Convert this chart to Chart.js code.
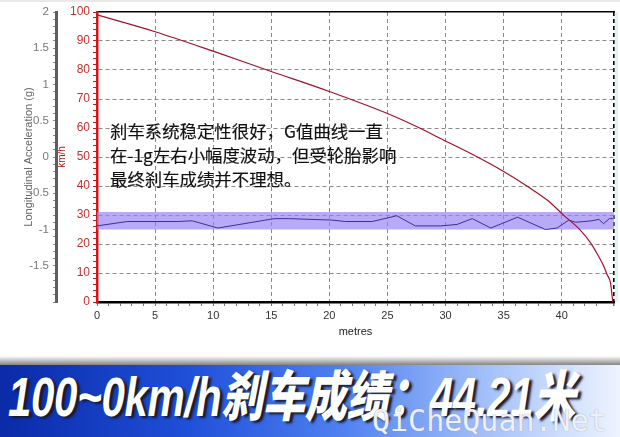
<!DOCTYPE html>
<html>
<head>
<meta charset="utf-8">
<script src="https://cdn.jsdelivr.net/npm/chart.js@4/dist/chart.umd.min.js"></script>
<style>
  html,body{margin:0;padding:0;background:#fff;}
  #wrap{position:relative;width:620px;height:437px;overflow:hidden;background:#fff;}
  #c{position:absolute;left:0;top:0;}
  #topstrip{position:absolute;left:0;top:0;width:620px;height:2px;background:#e9e9e9;}
  #rightstrip{position:absolute;left:615px;top:12px;width:3px;height:290px;background:#dff5f5;}
  #note{position:absolute;left:110px;top:119px;font-family:"Noto Sans CJK SC","Noto Sans",sans-serif;font-size:17.4px;line-height:24px;color:#111;white-space:nowrap;-webkit-text-stroke:0.15px #111;}
  #shadow{position:absolute;left:0;top:356px;width:620px;height:9px;background:linear-gradient(to bottom,rgba(255,255,255,0),rgba(110,110,110,0.85));}
  #banner{position:absolute;left:0;top:365px;width:620px;height:72px;background:linear-gradient(to right,#0a2aa8 0%,#1f4fd8 30%,#4f80f0 55%,#a9c4fa 80%,#eef4ff 100%);}
  #btext{position:absolute;left:8px;top:369px;font-family:"Liberation Sans","Noto Sans CJK SC",sans-serif;font-weight:900;font-style:italic;font-size:42px;line-height:44px;color:#fff;text-shadow:3px 2px 2px #1a1a2a;white-space:nowrap;letter-spacing:-0.3px;transform:scale(1,1.3);transform-origin:left top;}
  #wm{position:absolute;left:372px;top:404px;font-family:"DejaVu Sans Mono","Liberation Mono",monospace;font-size:30px;line-height:34px;color:rgba(248,250,255,0.92);text-shadow:0 0 1px #8890a8;white-space:nowrap;}
</style>
</head>
<body>
<div id="wrap">
  <canvas id="c" width="620" height="350"></canvas>
  <div id="topstrip"></div>
  <div id="rightstrip"></div>
  <div id="note">刹车系统稳定性很好，G值曲线一直<br>在-1g左右小幅度波动，但受轮胎影响<br>最终刹车成绩并不理想。</div>
  <div id="shadow"></div>
  <div id="banner"></div>
  <div id="btext">100~0km/h刹车成绩：44.21米</div>
  <div id="wm">QiCheQuan.Net</div>
</div>
<script>
// ---- data ----
const speedDist = [0, 5, 10, 15, 20, 25, 27.5, 30, 32.5, 35, 37, 38.8, 40.2, 41.6, 42.5, 43, 43.6, 43.9, 44.2, 44.4];
const speedKmh  = [99, 93.2, 86.5, 79.5, 72.6, 65, 60.5, 55.5, 50.5, 45, 40, 35, 29.8, 24.8, 20.3, 17, 12.5, 9.5, 6.5, 0];

const gDist = [0, 2.6, 6.9, 8.2, 10.4, 14.9, 15.3, 16.5, 20.2, 21.4, 23.7, 25.8, 27.4, 29.6, 31, 32.3, 33.9, 36.2, 38.6, 39.6, 40.6, 41.2, 41.9, 42.6, 43.2, 43.6, 44.1, 44.4];
const gVals = [-0.95, -0.89, -0.89, -0.88, -0.98, -0.86, -0.85, -0.85, -0.87, -0.89, -0.89, -0.81, -0.95, -0.95, -0.93, -0.85, -0.98, -0.83, -1.0, -0.98, -0.87, -0.9, -0.89, -0.88, -0.86, -0.92, -0.85, -0.85];

const bandDist = [0, 44.5];
const bandTop = [-0.76, -0.76];
const bandBottom = [-1.0, -1.0];

const xTickLabels = [0, 5, 10, 15, 20, 25, 30, 35, 40];
const kmhTickLabels = [0, 10, 20, 30, 40, 50, 60, 70, 80, 90, 100];
const gTickLabels = [-1.5, -1, -0.5, 0, 0.5, 1, 1.5, 2];
const X_MAX = 44.5;

const pts = (xs, ys) => xs.map((x, i) => ({x: x, y: ys[i]}));
const near = (v, list) => list.some(t => Math.abs(t - v) < 1e-6);
const FONT = "'Liberation Sans', Arial, sans-serif";

new Chart(document.getElementById('c'), {
  type: 'line',
  data: {
    datasets: [
      {label: 'bandTop', data: pts(bandDist, bandTop), yAxisID: 'g', xAxisID: 'x',
       borderWidth: 0, pointRadius: 0, fill: '+1', backgroundColor: 'rgba(150,130,245,0.68)', order: 5},
      {label: 'bandBottom', data: pts(bandDist, bandBottom), yAxisID: 'g', xAxisID: 'x',
       borderWidth: 0, pointRadius: 0, fill: false, order: 5},
      {label: 'g', data: pts(gDist, gVals), yAxisID: 'g', xAxisID: 'x',
       borderColor: '#3e2f92', borderWidth: 1, pointRadius: 0, fill: false, tension: 0, order: 2},
      {label: 'speed', data: pts(speedDist, speedKmh), yAxisID: 'v', xAxisID: 'x',
       borderColor: '#a3102c', borderWidth: 1.2, pointRadius: 0, fill: false, cubicInterpolationMode: 'monotone', order: 1}
    ]
  },
  options: {
    responsive: false,
    animation: false,
    layout: {padding: {top: 12, left: 0, right: 0, bottom: 0}},
    plugins: {legend: {display: false}, tooltip: {enabled: false}},
    scales: {
      x: {
        type: 'linear', position: 'bottom', min: 0, max: X_MAX,
        afterFit: s => { s.height = 48; },
        ticks: {stepSize: 1, autoSkip: false, maxRotation: 0, padding: 3, color: '#333',
                font: {family: FONT, size: 11},
                callback: v => near(v, xTickLabels) ? String(v) : ''},
        grid: {drawOnChartArea: true, tickLength: 4, tickBorderDash: [],
               color: c => {
                 if (!c.tick) return 'rgba(0,0,0,0)';
                 if (Math.abs(c.tick.value - X_MAX) < 1e-6) return '#000';
                 return (near(c.tick.value, xTickLabels) && c.tick.value !== 0) ? '#8a8a8a' : 'rgba(0,0,0,0)';
               },
               lineWidth: c => (c.tick && Math.abs(c.tick.value - X_MAX) < 1e-6) ? 1.6 : 1,
               tickColor: '#777'},
        border: {display: true, color: '#000', width: 2.5, dash: [4, 3]},
        title: {display: true, text: 'metres', color: '#222', font: {family: FONT, size: 11}, padding: {top: 0, bottom: 11}}
      },
      xt: {
        type: 'linear', position: 'top', min: 0, max: X_MAX,
        afterFit: s => { s.height = 0; },
        ticks: {display: false}, grid: {display: false, drawTicks: false},
        border: {display: true, color: '#000', width: 1.5}
      },
      v: {
        type: 'linear', position: 'left', min: 0, max: 100, weight: 0,
        afterFit: s => { s.width = 41; },
        ticks: {stepSize: 2, autoSkip: false, padding: 3, color: '#c8302f',
                font: {family: FONT, size: 12},
                callback: v => near(v, kmhTickLabels) ? String(v) : ''},
        grid: {drawOnChartArea: true, tickLength: 4, tickBorderDash: [],
               color: c => (c.tick && near(c.tick.value, kmhTickLabels) && c.tick.value !== 0 && c.tick.value !== 100) ? '#8a8a8a' : 'rgba(0,0,0,0)',
               tickColor: '#c42020', lineWidth: 1},
        border: {display: true, color: '#d41414', width: 2.5, dash: [4, 3]},
        title: {display: true, text: 'km/h', color: '#b01818', font: {family: FONT, size: 10}, padding: {top: 0, bottom: 0}}
      },
      g: {
        type: 'linear', position: 'left', min: -2, max: 2, weight: 1,
        afterFit: s => { s.width = 56; },
        ticks: {stepSize: 0.1, autoSkip: false, padding: 4, color: '#777',
                font: {family: FONT, size: 11.5},
                callback: v => near(v, gTickLabels) ? String(Math.round(v * 10) / 10) : ''},
        grid: {drawOnChartArea: false, tickLength: 3, tickColor: '#888', lineWidth: 1},
        border: {display: true, color: '#5e5e5e', width: 3},
        title: {display: true, text: 'Longitudinal Acceleration (g)', color: '#666', font: {family: FONT, size: 11}, padding: {top: 22, bottom: 0}}
      },
      r: {
        type: 'linear', position: 'right', min: 0, max: 1,
        afterFit: s => { s.width = 6; },
        ticks: {display: false}, grid: {display: false, drawTicks: false},
        border: {display: false}
      }
    }
  }
});
</script>
</body>
</html>
